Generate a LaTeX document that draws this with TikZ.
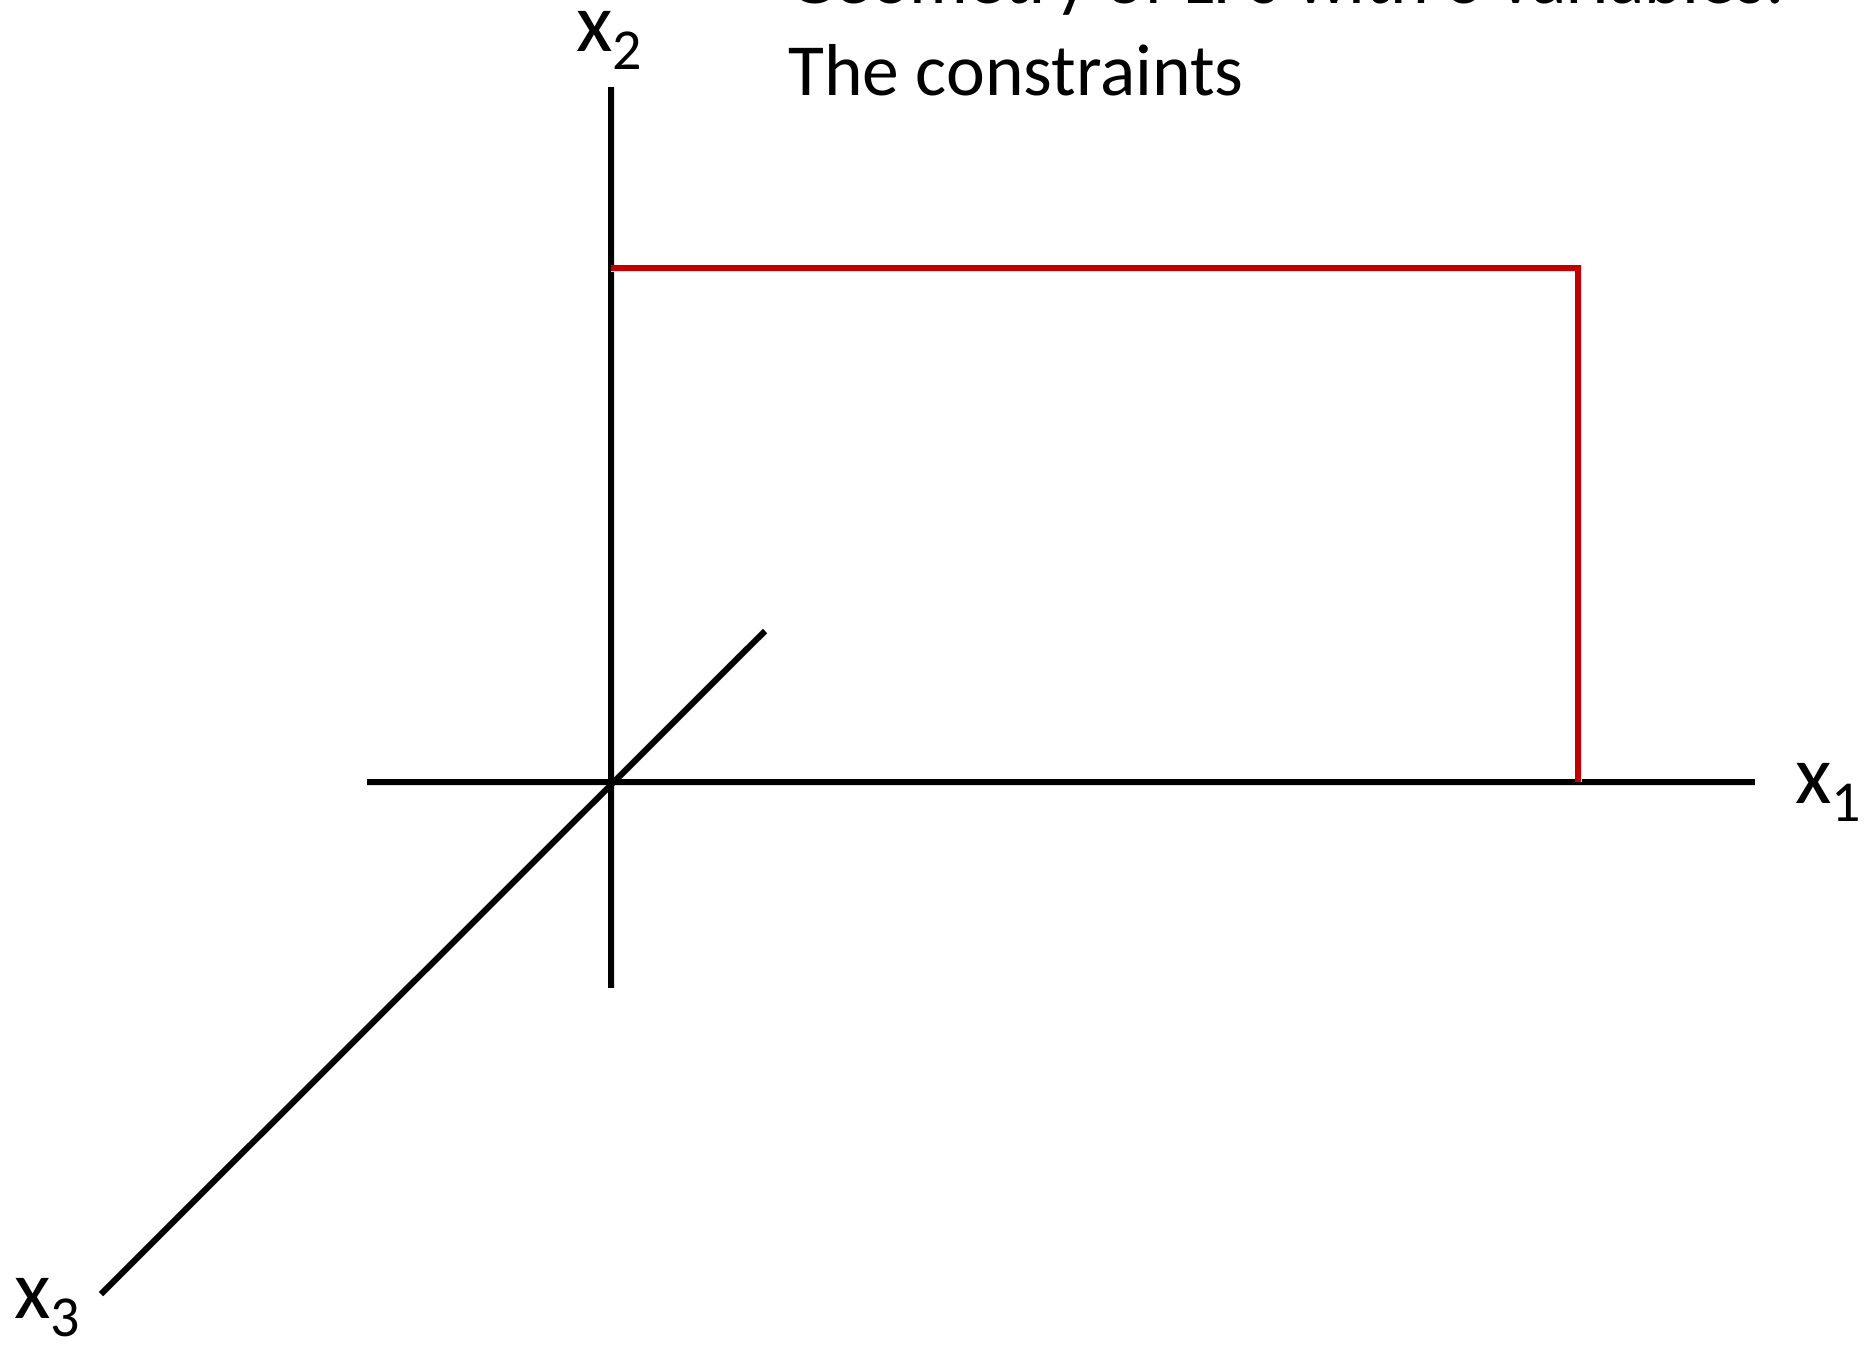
\documentclass[tikz,border=0pt]{standalone}
\usepackage{fontspec}
\setmainfont{Carlito}

\definecolor{bordo}{HTML}{C00000}

\newcommand*{\xorig}{611}
\newcommand*{\yorig}{782}
\newcommand*{\axsub}[1]{\raisebox{-18pt}{\fontsize{58}{60}\selectfont #1}}

\begin{document}
\begin{tikzpicture}
[
	x=1pt,y=-1pt,
	axis/.style={line width=6pt,black},
	bound/.style={line width=6pt,bordo},
	shade/.style={line width=7pt,black!12,shift={(3,4)}},
	axlabel/.style={font=\fontsize{84}{100}\selectfont,inner sep=0pt,anchor=base west},
	title/.style={font=\fontsize{73.5}{92}\selectfont,inner sep=0pt,anchor=base west}
]
	\useasboundingbox (0,0) rectangle (1866,1344);

	% title, top line cut off by the page edge
	\node[title] (head) at (788,3) {Geometry of LPs with 3 variables:};
	\node[title] (sub) at (788,95) {The constraints};

	% axes
	\coordinate (o) at (\xorig,\yorig);
	\coordinate (x1lo) at (367,\yorig);
	\coordinate (x1hi) at (1755,\yorig);
	\coordinate (x2lo) at (\xorig,988);
	\coordinate (x2hi) at (\xorig,87);
	\coordinate (x3lo) at (101,1294);
	\coordinate (x3hi) at (765,631);
	\draw[shade] (x1lo) -- (x1hi);
	\draw[shade] (x2lo) -- (x2hi);
	\draw[shade] (x3lo) -- (x3hi);
	\draw[axis] (x1lo) -- (x1hi);
	\draw[axis] (x2lo) -- (x2hi);
	\draw[axis] (x3lo) -- (x3hi);

	% label axes
	\node[axlabel] (x1) at (1795,803) {x\axsub{1}};
	\node[axlabel] (x2) at (576,51) {x\axsub{2}};
	\node[axlabel] (x3) at (14,1318) {x\axsub{3}};

	% constraint bounds
	\coordinate (c1) at (\xorig,268);
	\coordinate (c2) at (1578,268);
	\coordinate (c3) at (1578,\yorig);
	\draw[shade] (c1) -- (c2) -- (c3);
	\draw[bound] (c1) -- (c2) -- (c3);

\end{tikzpicture}
\end{document}
